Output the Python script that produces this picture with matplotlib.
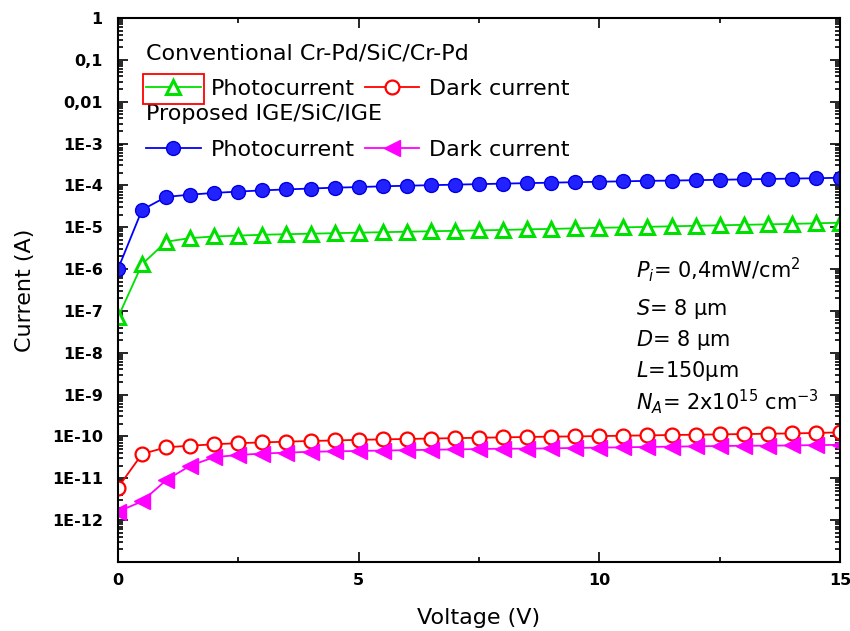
import matplotlib
matplotlib.use('Agg')
import matplotlib.pyplot as plt
from matplotlib.patches import Rectangle
from matplotlib.ticker import LogLocator, NullFormatter
import numpy as np

plt.rcParams['font.family'] = ['DejaVu Sans']
plt.rcParams['mathtext.fontset'] = 'dejavusans'

# voltage sweep (V)
voltage = np.arange(0, 15.01, 0.5)

# conventional Cr-Pd/SiC/Cr-Pd
conv_photo = [7e-8, 1.3e-6, 4.5e-6, 5.5e-6, 6.0e-6, 6.3e-6, 6.6e-6, 6.8e-6, 7.0e-6, 7.2e-6,
              7.4e-6, 7.6e-6, 7.8e-6, 8.0e-6, 8.2e-6, 8.4e-6, 8.6e-6, 8.9e-6, 9.1e-6, 9.4e-6,
              9.7e-6, 9.9e-6, 1.02e-5, 1.05e-5, 1.08e-5, 1.11e-5, 1.14e-5, 1.17e-5, 1.2e-5, 1.24e-5, 1.28e-5]
conv_dark = [6e-12, 3.8e-11, 5.5e-11, 6.0e-11, 6.5e-11, 6.9e-11, 7.2e-11, 7.5e-11, 7.8e-11, 8.0e-11,
             8.3e-11, 8.5e-11, 8.7e-11, 8.9e-11, 9.1e-11, 9.3e-11, 9.5e-11, 9.7e-11, 9.9e-11, 1.0e-10,
             1.02e-10, 1.04e-10, 1.06e-10, 1.08e-10, 1.1e-10, 1.12e-10, 1.14e-10, 1.16e-10, 1.18e-10, 1.21e-10, 1.25e-10]

# proposed IGE/SiC/IGE
ige_photo = [1.0e-6, 2.6e-5, 5.3e-5, 6.0e-5, 6.6e-5, 7.1e-5, 7.6e-5, 8.0e-5, 8.4e-5, 8.8e-5,
             9.1e-5, 9.5e-5, 9.8e-5, 1.01e-4, 1.04e-4, 1.07e-4, 1.1e-4, 1.13e-4, 1.16e-4, 1.19e-4,
             1.22e-4, 1.25e-4, 1.28e-4, 1.3e-4, 1.33e-4, 1.36e-4, 1.39e-4, 1.42e-4, 1.45e-4, 1.48e-4, 1.52e-4]
ige_dark = [1.6e-12, 2.8e-12, 9e-12, 2.0e-11, 3.2e-11, 3.6e-11, 3.9e-11, 4.1e-11, 4.3e-11, 4.4e-11,
            4.5e-11, 4.6e-11, 4.7e-11, 4.8e-11, 4.9e-11, 5.0e-11, 5.1e-11, 5.1e-11, 5.2e-11, 5.3e-11,
            5.4e-11, 5.5e-11, 5.6e-11, 5.7e-11, 5.8e-11, 5.9e-11, 6.0e-11, 6.0e-11, 6.1e-11, 6.2e-11, 6.3e-11]

ytick_vals = [1, 0.1, 0.01, 1e-3, 1e-4, 1e-5, 1e-6, 1e-7, 1e-8, 1e-9, 1e-10, 1e-11, 1e-12]
ytick_labels = ['1', '0,1', '0,01', '1E-3', '1E-4', '1E-5', '1E-6', '1E-7', '1E-8', '1E-9',
                '1E-10', '1E-11', '1E-12']

params = [r'$P_{i}$= 0,4mW/cm$^{2}$', r'$S$= 8 µm', r'$D$= 8 µm', r'$L$=150µm',
          r'$N_{A}$= 2x10$^{15}$ cm$^{-3}$']
param_y = [0.522, 0.454, 0.397, 0.340, 0.281]

fig = plt.figure(figsize=(8.5, 6.31), dpi=100)
ax = fig.add_axes([0.1388, 0.1094, 0.8494, 0.8621])

g, = ax.plot(voltage, conv_photo, color='#00e000', lw=1.3, marker='^', ms=10.5,
             mfc='white', mec='#00e000', mew=2.2)
r, = ax.plot(voltage, conv_dark, color='#ff0000', lw=1.3, marker='o', ms=10,
             mfc='white', mec='#ff0000', mew=1.6)
m, = ax.plot(voltage, ige_dark, color='#ff00ff', lw=1.3, marker='<', ms=11,
             mfc='#ff00ff', mec='#ff00ff')
b, = ax.plot(voltage, ige_photo, color='#0000ff', lw=1.3, marker='o', ms=10,
             mfc='#2222ff', mec='#0000e0')

ax.set_yscale('log')
ax.set_ylim(1e-13, 1)
ax.set_xlim(0, 15)
ax.set_yticks(ytick_vals)
ax.set_yticklabels(ytick_labels, fontweight='bold', fontsize=11.5)
ax.yaxis.set_minor_locator(LogLocator(base=10, subs=np.arange(2, 10), numticks=60))
ax.yaxis.set_minor_formatter(NullFormatter())
ax.set_xticks([0, 5, 10, 15])
ax.set_xticklabels(['0', '5', '10', '15'], fontweight='bold', fontsize=11.5)
ax.set_xticks([2.5, 7.5, 12.5], minor=True)
ax.tick_params(which='both', direction='in', top=True, right=True, width=1.2)
ax.tick_params(which='major', length=7)
ax.tick_params(axis='y', which='major', pad=11)
ax.tick_params(axis='x', which='major', pad=8)
ax.tick_params(which='minor', length=3.5)
for s in ax.spines.values():
    s.set_linewidth(1.5)

ax.set_xlabel('Voltage (V)', fontsize=16, labelpad=14)
ax.set_ylabel('Current (A)', fontsize=16, labelpad=12)

fs = 16
leg_kw = dict(ncol=2, frameon=False, loc='upper left', fontsize=fs, title_fontsize=fs,
              handlelength=2.45, handletextpad=0.45, columnspacing=0.45, alignment='left',
              borderaxespad=0, borderpad=0, labelspacing=0.7, numpoints=1)
leg1 = ax.legend([g, r], ['Photocurrent', 'Dark current'], title='Conventional Cr-Pd/SiC/Cr-Pd',
                 bbox_to_anchor=(0.039, 0.954), **leg_kw)
ax.add_artist(leg1)
leg2 = ax.legend([b, m], ['Photocurrent', 'Dark current'], title='Proposed IGE/SiC/IGE',
                 bbox_to_anchor=(0.039, 0.841), **leg_kw)

# red frame around the first legend handle, placed from the drawn legend text
fig.canvas.draw()
px = fs * fig.dpi / 72
tb = leg1.get_texts()[0].get_window_extent()
x1 = tb.x0 - 0.45 * px + 3
x0 = x1 - 2.45 * px - 6
yc = (tb.y0 + tb.y1) / 2
fig.patches.append(Rectangle((x0, yc - 15), x1 - x0, 30, transform=None,
                             fill=False, ec='red', lw=1.3))

for t, yy in zip(params, param_y):
    ax.text(0.718, yy, t, transform=ax.transAxes, fontsize=15, va='baseline')

fig.savefig('out.png', dpi=100)
